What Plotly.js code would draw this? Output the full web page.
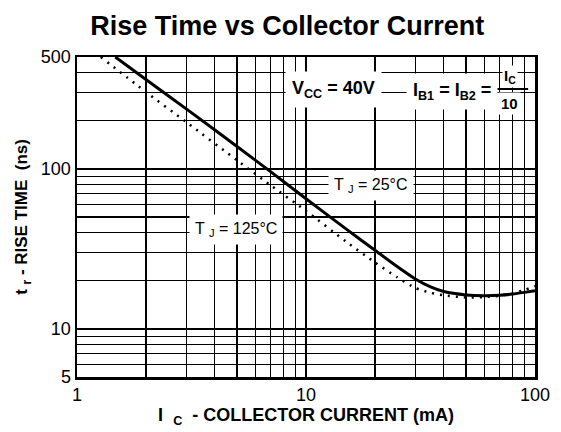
<!DOCTYPE html>
<html>
<head>
<meta charset="utf-8">
<script src="https://cdn.plot.ly/plotly-3.0.1.min.js"></script>
<style>html,body{margin:0;padding:0;background:#fff;}#chart{width:561px;height:432px;}</style>
</head>
<body>
<div id="chart"></div>
<script>
// Data
const ic25 = [1.47, 2, 3, 5, 7, 10, 15, 20, 25, 30, 35, 40, 50, 60, 70, 80, 90, 100];
const tr25 = [500, 362, 237, 138, 96, 65, 42, 31, 24.5, 20.5, 18.3, 17.1, 16.3, 16.1, 16.2, 16.5, 16.9, 17.3];
const ic125 = [1.27, 2, 3, 5, 7, 10, 15, 20, 25, 30, 35, 40, 50, 60, 70, 80, 90, 100];
const tr125 = [500, 302, 196, 113, 79, 54.6, 35, 26, 21, 18.0, 16.8, 16.2, 15.7, 15.8, 16.1, 16.7, 17.5, 18.5];

const xMajor = [1, 10, 100];
const xMinor = [2, 3, 4, 5, 6, 7, 8, 9, 20, 30, 40, 50, 60, 70, 80, 90];
const yMajor = [5, 10, 100, 500];
const yMinor = [6, 7, 8, 9, 20, 30, 40, 50, 60, 70, 80, 90, 200, 300, 400];

const FONT = "Liberation Sans, Arial, Helvetica, sans-serif";

const traces = [
  {x: ic25, y: tr25, type: 'scatter', mode: 'lines', line: {color: '#000', width: 3, shape: 'spline', smoothing: 0.6}, name: 'TJ=25'},
  {x: ic125, y: tr125, type: 'scatter', mode: 'lines', line: {color: '#000', width: 2.5, dash: '2px,6px', shape: 'spline', smoothing: 0.6}, name: 'TJ=125'}
];

function ann(x, y, text, size, bold, pad) {
  return {xref: 'paper', yref: 'paper', x: x, y: y, xanchor: 'center', yanchor: 'middle', text: text, showarrow: false,
          font: {size: size, color: '#000', weight: bold ? 'bold' : 'normal'}, bgcolor: '#fff', borderpad: pad};
}

const layout = {
  width: 561, height: 432,
  margin: {l: 77, r: 26, t: 57, b: 55},
  paper_bgcolor: '#fff', plot_bgcolor: '#fff',
  showlegend: false,
  font: {family: FONT, color: '#000'},
  title: {text: 'Rise Time vs Collector Current', font: {size: 27, family: FONT, color: '#000', weight: 'bold'},
          xref: 'container', x: 0.512, xanchor: 'center', yref: 'container', y: 0.94, yanchor: 'middle'},
  xaxis: {
    type: 'log', range: [0, 2],
    tickmode: 'array', tickvals: xMajor, ticktext: xMajor.map(String),
    ticks: '', tickfont: {size: 18, color: '#000'},
    showgrid: true, gridcolor: '#000', gridwidth: 2.5,
    minor: {tickmode: 'array', tickvals: xMinor, showgrid: true, gridcolor: '#000', gridwidth: 1.2, ticks: ''},
    showline: true, linecolor: '#000', linewidth: 2.5, mirror: true,
    zeroline: false,
    title: {text: 'I  <sub>C</sub>  - COLLECTOR CURRENT (mA)', font: {size: 18, color: '#000', weight: 'bold'}, standoff: 4}
  },
  yaxis: {
    type: 'log', range: [Math.log10(5), Math.log10(500)],
    tickmode: 'array', tickvals: yMajor, ticktext: yMajor.map(String),
    ticks: '', tickfont: {size: 18, color: '#000'},
    showgrid: true, gridcolor: '#000', gridwidth: 2.5,
    minor: {tickmode: 'array', tickvals: yMinor, showgrid: true, gridcolor: '#000', gridwidth: 1.2, ticks: ''},
    showline: true, linecolor: '#000', linewidth: 2.5, mirror: true,
    zeroline: false,
    title: {text: 't <sub>r</sub> - RISE TIME  (ns)', font: {size: 17, color: '#000', weight: 'bold'}, standoff: 9}
  },
  annotations: [
    ann(0.561, 0.897, 'V<sub>CC</sub> = 40V', 18, true, 6),
    ann(0.818, 0.893, 'I<sub>B1</sub> = I<sub>B2</sub> =', 18, true, 6),
    ann(0.945, 0.94, 'I<sub>C</sub>', 15, true, 1),
    ann(0.945, 0.855, '10', 15, true, 2),
    ann(0.642, 0.597, 'T <sub>J</sub> = 25°C', 16, false, 5),
    ann(0.347, 0.462, 'T <sub>J</sub> = 125°C', 16, false, 5)
  ],
  shapes: [
    {type: 'line', xref: 'paper', yref: 'paper', x0: 0.906, x1: 0.985, y0: 0.9, y1: 0.9, line: {color: '#000', width: 2}}
  ]
};

Plotly.newPlot('chart', traces, layout, {displayModeBar: false, staticPlot: true});
</script>
</body>
</html>
